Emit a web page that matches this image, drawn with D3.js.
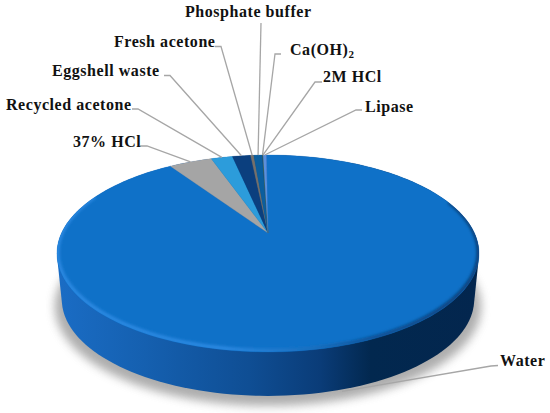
<!DOCTYPE html>
<html>
<head>
<meta charset="utf-8">
<script src="https://cdn.jsdelivr.net/npm/d3@7"></script>
<style>
  html, body { margin: 0; padding: 0; background: #fff; }
  text { font-family: "Liberation Serif", serif; font-weight: bold; font-size: 16px; letter-spacing: 0.55px; fill: #111; }
</style>
</head>
<body>
<div id="app"></div>
<script>
// values, in percent
const names = ["Water", "37% HCl", "Recycled acetone", "Eggshell waste", "Fresh acetone",
    "Phosphate buffer", "Ca(OH)2", "2M HCl", "Lipase"];
const values = [90.8, 4.03, 2.0, 1.7, 0.3, 0.8, 0.03, 0.04, 0.3];
const colors = ["#0F71C8", "#A5A5A5", "#2C9CDB", "#0B3F7E", "#76706A",
    "#0B5E9E", "#264478", "#43682B", "#5B8FDC"];

// label layout: text start + baseline, then the elbow of the leader
const labelLayout = {
    "Water":            { x: 500, y: 366, from: [498, 365.5], elbow: [491, 366], side: true },
    "37% HCl":          { x: 73,  y: 147, from: [140, 146], elbow: [147, 146] },
    "Recycled acetone": { x: 6,   y: 110, from: [132, 109], elbow: [138, 109] },
    "Eggshell waste":   { x: 52,  y: 76,  from: [164, 75.5], elbow: [170, 75.5] },
    "Fresh acetone":    { x: 114, y: 47,  from: [215, 46.5], elbow: [221, 46.5] },
    "Phosphate buffer": { x: 185, y: 17,  from: [261, 23], elbow: [261, 23] },
    "Ca(OH)2":          { x: 290, y: 55,  from: [281, 54], elbow: [275, 54] },
    "2M HCl":           { x: 323, y: 82,  from: [322, 82], elbow: [315, 82] },
    "Lipase":           { x: 365, y: 112, from: [362, 110], elbow: [356, 110] }
};

const width = 550, height = 413;

// perspective of the disc: apex sits above the middle of the ellipse
const cx = 268, cy = 233, a = 206.4, b = 94.2, k = 0.208;
const sideDrop = 46.7, sideScale = 0.977;

function project(theta, r = 1, s = 1, drop = 0) {
    const X = r * Math.sin(theta), Y = -r * Math.cos(theta);
    const w = 1 - k * Y;
    return [cx + s * a * X / w, cy + drop + s * b * Y / w];
}

const startAngle = -0.56 * Math.PI / 180;
const arcs = d3.pie().sort(null).startAngle(startAngle).endAngle(startAngle + 2 * Math.PI)(values);

const line = d3.line();
const ring = (s, drop) => d3.range(0, 360, 2).map(t => project(t * Math.PI / 180, 1, s, drop));

const svg = d3.select("#app").append("svg")
    .attr("width", width).attr("height", height)
    .style("display", "block");

const defs = svg.append("defs");
defs.append("filter").attr("id", "shadow")
    .attr("x", "-10%").attr("y", "-20%").attr("width", "120%").attr("height", "140%")
    .append("feGaussianBlur").attr("stdDeviation", 5);
defs.append("filter").attr("id", "bevel")
    .attr("x", "-10%").attr("y", "-20%").attr("width", "120%").attr("height", "140%")
    .append("feGaussianBlur").attr("stdDeviation", 1.6);

const sideGrad = defs.append("linearGradient").attr("id", "sideGrad")
    .attr("gradientUnits", "userSpaceOnUse")
    .attr("x1", 60).attr("x2", 480).attr("y1", 0).attr("y2", 0);
[[0, "#1A6CC4"], [0.2, "#1560B0"], [0.45, "#0F4E94"], [0.62, "#0A3C78"],
 [0.74, "#02284F"], [1, "#03264E"]].forEach(d =>
    sideGrad.append("stop").attr("offset", d[0]).attr("stop-color", d[1]));

const rimGrad = defs.append("linearGradient").attr("id", "rimGrad")
    .attr("gradientUnits", "userSpaceOnUse")
    .attr("x1", 60).attr("x2", 480).attr("y1", 0).attr("y2", 0);
[[0, "#2E8BE4"], [0.4, "#2E8BE4"], [0.6, "#1C6FBE"], [0.75, "#0B4C8E"], [1, "#073A70"]].forEach(d =>
    rimGrad.append("stop").attr("offset", d[0]).attr("stop-color", d[1]));

defs.append("clipPath").attr("id", "topClip")
    .append("path").attr("d", line(ring(1, 0)) + "Z");

// soft shadow under the disc
svg.append("path")
    .attr("d", line(ring(1.01, sideDrop + 6)) + "Z")
    .attr("fill", "#777")
    .attr("opacity", 0.6)
    .attr("filter", "url(#shadow)");

// side wall: hull of top and bottom rims
svg.append("path")
    .attr("d", line(d3.polygonHull(ring(1, 0).concat(ring(sideScale, sideDrop)))) + "Z")
    .attr("fill", "url(#sideGrad)");

// top face
svg.append("g").selectAll("path")
    .data(arcs)
    .enter()
    .append("path")
        .attr("d", d => {
            const n = Math.max(2, Math.ceil((d.endAngle - d.startAngle) / 0.02));
            const pts = d3.range(n + 1).map(i => project(d.startAngle + (d.endAngle - d.startAngle) * i / n));
            return line([[cx, cy]].concat(pts)) + "Z";
        })
        .attr("fill", (d, i) => colors[i])
        .attr("stroke", (d, i) => colors[i])
        .attr("stroke-width", 0.3);

// bevel along the front of the rim
const frontRim = d3.range(70, 295, 2).map(t => project(t * Math.PI / 180, 1, 0.997, -1));
svg.append("g").attr("clip-path", "url(#topClip)")
    .append("path")
    .attr("d", line(frontRim))
    .attr("fill", "none")
    .attr("stroke", "url(#rimGrad)")
    .attr("stroke-width", 3.5)
    .attr("filter", "url(#bevel)");

// leaders
const labels = arcs.map((d, i) => ({ name: names[i], mid: (d.startAngle + d.endAngle) / 2, layout: labelLayout[names[i]] }));

svg.append("g").selectAll("path")
    .data(labels)
    .enter()
    .append("path")
        .attr("d", d => {
            const end = d.layout.side ? project(d.mid, 1, sideScale, sideDrop + 2) : project(d.mid);
            return line([d.layout.from, d.layout.elbow, end]);
        })
        .attr("fill", "none")
        .attr("stroke", "#A6A6A6")
        .attr("stroke-width", 1.3);

// label text, with the 2 of Ca(OH)2 set as a subscript
const texts = svg.append("g").selectAll("text")
    .data(labels)
    .enter()
    .append("text")
        .attr("x", d => d.layout.x)
        .attr("y", d => d.layout.y);

texts.each(function(d) {
    const t = d3.select(this);
    if (d.name === "Ca(OH)2") {
        t.append("tspan").text("Ca(OH)");
        t.append("tspan").attr("dy", 3).style("font-size", "11px").text("2");
    } else {
        t.text(d.name);
    }
});
</script>
</body>
</html>
